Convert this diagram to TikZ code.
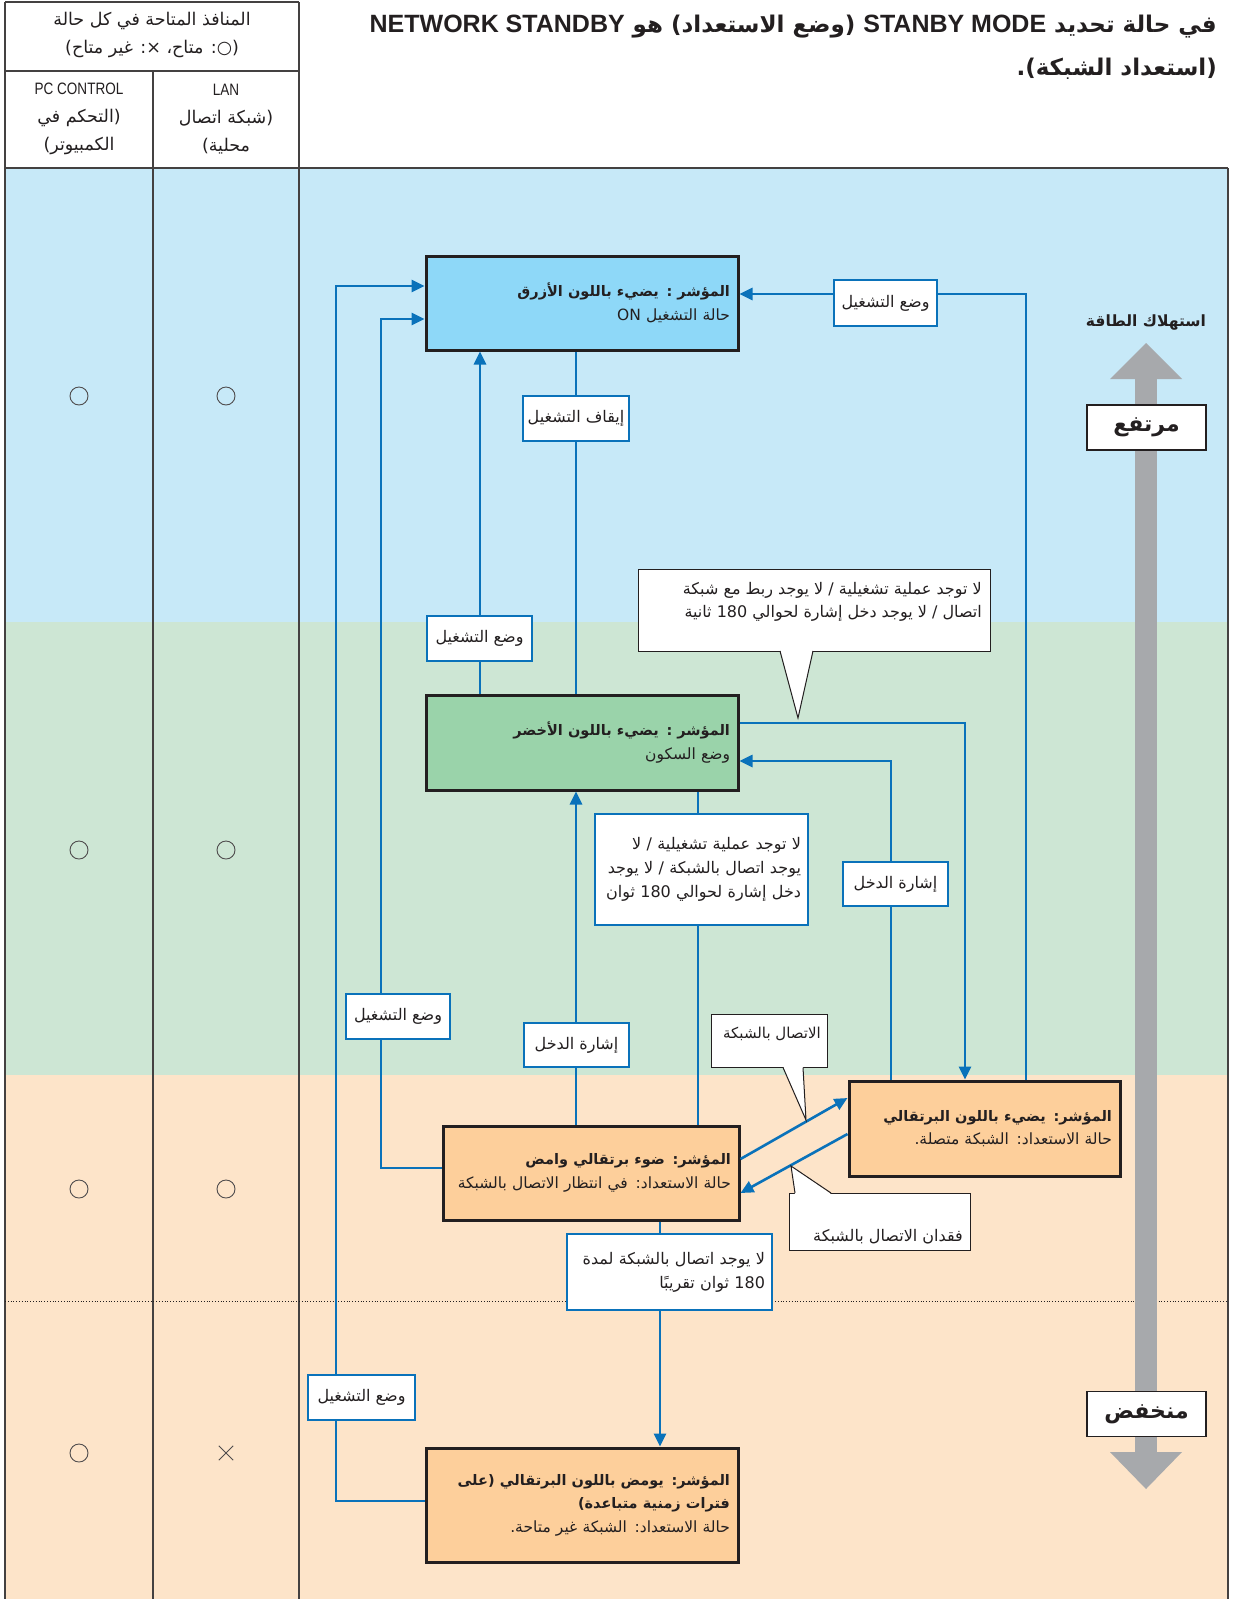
\documentclass[tikz,border=0pt]{standalone}
\usepackage{fontspec}
\setmainfont{Liberation Sans}
\newfontfamily\arabicfont[Script=Arabic]{DejaVu Sans}
\newfontfamily\condfont[FakeStretch=0.82]{Liberation Sans}
\TeXXeTstate=1
\usetikzlibrary{arrows.meta}
\newcommand\AR[1]{\mbox{\arabicfont\beginR #1\endR}}
\newcommand\ARB[1]{\mbox{\arabicfont\bfseries\beginR #1\endR}}
\newcommand\ARBs[1]{\mbox{\arabicfont\bfseries\fontsize{14.5}{23.5}\selectfont\beginR #1\endR}}
\newcommand\LT[1]{\beginL{\rmfamily\fontsize{25}{28}\selectfont #1}\endL}
\definecolor{blueband}{HTML}{C7E9F8}
\definecolor{greenband}{HTML}{CDE6D4}
\definecolor{orangeband}{HTML}{FDE4C9}
\definecolor{bluebox}{HTML}{8ED8F8}
\definecolor{greenbox}{HTML}{9AD3AA}
\definecolor{orangebox}{HTML}{FDCF9B}
\definecolor{lineblue}{HTML}{0A72BA}
\definecolor{grayarrow}{HTML}{A7A9AC}
\definecolor{txt}{HTML}{231F20}
\tikzset{
  conn/.style={draw=lineblue, line width=2.6pt},
  arr/.style={-{Triangle[length=13pt,width=12pt]}},
  mainbox/.style={draw=txt, line width=3pt, inner xsep=8pt, inner ysep=0pt, align=right, text=txt, font=\fontsize{15.5}{23.5}\selectfont},
  lbl/.style={draw=lineblue, line width=1.3pt, fill=white, inner sep=0pt, align=right, text=txt, font=\fontsize{16}{24}\selectfont},
  callbox/.style={draw=txt, line width=1pt, fill=white, inner sep=0pt},
  calltext/.style={inner sep=0pt, align=right, text=txt, font=\fontsize{16}{23}\selectfont},
  tbl/.style={draw=txt!85, line width=1.1pt},
  hdr/.style={inner sep=0pt, align=center, text=txt, font=\fontsize{17.5}{28}\selectfont},
  sym/.style={circle, draw=txt!80, line width=0.9pt, minimum size=18pt, inner sep=0pt},
  xsym/.style={inner sep=0pt, minimum size=14pt},
  levelbox/.style={draw=txt, line width=1.2pt, fill=white, minimum width=119pt, minimum height=45pt, text=txt, font=\fontsize{22}{25}\selectfont},
}
\begin{document}
\begin{tikzpicture}[x=1pt,y=-1pt]
\useasboundingbox (0,0) rectangle (1236,1599);
\fill[white] (0,0) rectangle (1236,1599);
% bands
\fill[blueband] (5,168) rectangle (1228,622);
\fill[greenband] (5,622) rectangle (1228,1075);
\fill[orangeband] (5,1075) rectangle (1228,1599);
% table lines
\draw[tbl] (5,2) -- (299,2);
\draw[tbl] (5,2) -- (5,1599);
\draw[tbl] (299,2) -- (299,1599);
\draw[tbl] (153,71) -- (153,1599);
\draw[tbl] (5,71) -- (299,71);
\draw[tbl] (5,168) -- (1228,168);
\draw[tbl] (1228,168) -- (1228,1599);
\draw[txt, line width=0.8pt, dotted] (5,1301) -- (1228,1301);
% header texts
\node[hdr] (h1) at (152,35) {\AR{المنافذ المتاحة في كل حالة}\\\AR{(○: متاح، ×: غير متاح)}};
\node[hdr] (hpc) at (79,119) {{\condfont\fontsize{16.5}{28}\selectfont PC CONTROL}\\\AR{(التحكم في}\\\AR{الكمبيوتر)}};
\node[hdr] (hlan) at (226,119) {{\condfont\fontsize{16.5}{28}\selectfont LAN}\\\AR{(شبكة اتصال}\\\AR{محلية)}};
% symbols
\node[sym] (s1a) at (79,396) {};
\node[sym] (s1b) at (226,396) {};
\node[sym] (s2a) at (79,850) {};
\node[sym] (s2b) at (226,850) {};
\node[sym] (s3a) at (79,1189) {};
\node[sym] (s3b) at (226,1189) {};
\node[sym] (s4a) at (79,1453) {};
\node[xsym] (s4b) at (226,1453) {};
\draw[txt!80, line width=1pt] (s4b.north west) -- (s4b.south east) (s4b.north east) -- (s4b.south west);
% title
\node[anchor=east, inner sep=0pt, text=txt, font=\fontsize{23}{28}\selectfont] (t1) at (1217,27) {\ARB{في حالة تحديد \LT{STANBY MODE} (وضع الاستعداد) هو \LT{NETWORK STANDBY}}};
\node[anchor=east, inner sep=0pt, text=txt, font=\fontsize{23}{28}\selectfont] (t2) at (1217,69) {\ARB{(استعداد الشبكة).}};
% power arrow
\fill[grayarrow] (1135,378) rectangle (1157,1453);
\fill[grayarrow] (1110,379) -- (1146,343) -- (1182,379) -- cycle;
\fill[grayarrow] (1110,1452) -- (1146,1489) -- (1182,1452) -- cycle;
\node[inner sep=0pt, text=txt, font=\fontsize{15.5}{18}\selectfont] (pw) at (1146,323) {\ARB{استهلاك الطاقة}};
\node[levelbox] (hi) at (1146.5,427.5) {\ARB{مرتفع}};
\node[levelbox] (lo) at (1146.5,1414) {\ARB{منخفض}};
% main boxes
\node[mainbox, fill=bluebox, minimum width=312pt, minimum height=94pt, text width=296pt] (on) at (582,303) {\ARBs{المؤشر : يضيء باللون الأزرق}\\\AR{حالة التشغيل ON}};
\node[mainbox, fill=greenbox, minimum width=312pt, minimum height=95pt, text width=296pt] (sl) at (582,742.5) {\ARBs{المؤشر : يضيء باللون الأخضر}\\\AR{وضع السكون}};
\node[mainbox, fill=orangebox, minimum width=296pt, minimum height=94pt, text width=280pt] (o1) at (591,1173) {\ARBs{المؤشر: ضوء برتقالي وامض}\\\AR{حالة الاستعداد: في انتظار الاتصال بالشبكة}};
\node[mainbox, fill=orangebox, minimum width=271pt, minimum height=95pt, text width=255pt] (o2) at (984.5,1128.5) {\ARBs{المؤشر: يضيء باللون البرتقالي}\\\AR{حالة الاستعداد: الشبكة متصلة.}};
\node[mainbox, fill=orangebox, minimum width=312pt, minimum height=114pt, text width=296pt] (o3) at (582,1505) {\ARBs{المؤشر: يومض باللون البرتقالي (على}\\\ARBs{فترات زمنية متباعدة)}\\\AR{حالة الاستعداد: الشبكة غير متاحة.}};
% connectors
\draw[conn, arr] ([yshift=4pt]o3.west) -| (336,286) -- (on.west |- 336,286);
\draw[conn, arr] ([yshift=5pt]o1.west) -| (381,319) -- (on.west |- 381,319);
\draw[conn, arr] (sl.north -| 480,0) -- (on.south -| 480,0);
\draw[conn] (on.south -| 576,0) -- (sl.north -| 576,0);
\draw[conn, arr] (o1.north -| 576,0) -- (sl.south -| 576,0);
\draw[conn] (sl.south -| 698,0) -- (o1.north -| 698,0);
\draw[conn, arr] (sl.east |- 0,723) -| (o2.north -| 965,0);
\draw[conn, arr] (o2.north -| 891,0) |- (sl.east |- 0,761);
\draw[conn, arr] (o2.north -| 1026,0) |- (on.east |- 0,294);
\draw[conn, arr] (o1.east |- 0,1159) -- (o2.west |- 0,1098);
\draw[conn, arr] (o2.west |- 0,1134) -- (o1.east |- 0,1193);
\draw[conn, arr] (o1.south -| 660,0) -- (o3.north -| 660,0);
% labels
\node[lbl, minimum width=107pt, minimum height=45pt] (l1) at (361.5,1397.5) {\AR{وضع التشغيل}};
\node[lbl, minimum width=104pt, minimum height=45pt] (l2) at (398,1016.5) {\AR{وضع التشغيل}};
\node[lbl, minimum width=105pt, minimum height=45pt] (l3) at (479.5,638.5) {\AR{وضع التشغيل}};
\node[lbl, minimum width=106pt, minimum height=45pt] (l4) at (576,418.5) {\AR{إيقاف التشغيل}};
\node[lbl, minimum width=105pt, minimum height=44pt] (l5) at (576.5,1045) {\AR{إشارة الدخل}};
\node[lbl, minimum width=213pt, minimum height=111pt, text width=199pt] (l6) at (701.5,869.5) {\AR{لا توجد عملية تشغيلية / لا}\\\AR{يوجد اتصال بالشبكة / لا يوجد}\\\AR{دخل إشارة لحوالي 180 ثوان}};
\node[lbl, minimum width=105pt, minimum height=44pt] (l7) at (895.5,884) {\AR{إشارة الدخل}};
\node[lbl, minimum width=103pt, minimum height=46pt] (l8) at (885.5,303) {\AR{وضع التشغيل}};
\node[lbl, minimum width=205pt, minimum height=76pt, text width=191pt] (l9) at (669.5,1272) {\AR{لا يوجد اتصال بالشبكة لمدة}\\\AR{180 ثوان تقريبًا}};
% callouts
\node[callbox, minimum width=352pt, minimum height=82pt] (k1) at (814,610) {};
\node[calltext, anchor=north east] (k1t) at (982,582) {\AR{لا توجد عملية تشغيلية / لا يوجد ربط مع شبكة}\\\AR{اتصال / لا يوجد دخل إشارة لحوالي 180 ثانية}};
\fill[white] (780,649) -- (798,718) -- (813,649) -- cycle;
\draw[txt, line width=1pt] (780,651) -- (798,718) -- (813,651);
\node[callbox, minimum width=116pt, minimum height=53pt] (k2) at (769,1040.5) {};
\node[calltext, font=\fontsize{15}{20}\selectfont] (k2t) at (772,1034) {\AR{الاتصال بالشبكة}};
\fill[white] (783,1066) -- (806,1120) -- (803,1066) -- cycle;
\draw[txt, line width=1pt] (783,1067.5) -- (806,1120) -- (803,1067.5);
\node[callbox, minimum width=181pt, minimum height=57pt] (k3) at (879.5,1221.5) {};
\node[calltext, anchor=east] (k3t) at (963,1237) {\AR{فقدان الاتصال بالشبكة}};
\fill[white] (795,1194) -- (791,1166) -- (831,1194) -- cycle;
\draw[txt, line width=1pt] (795,1193) -- (791,1166) -- (831,1193);
\end{tikzpicture}
\end{document}
